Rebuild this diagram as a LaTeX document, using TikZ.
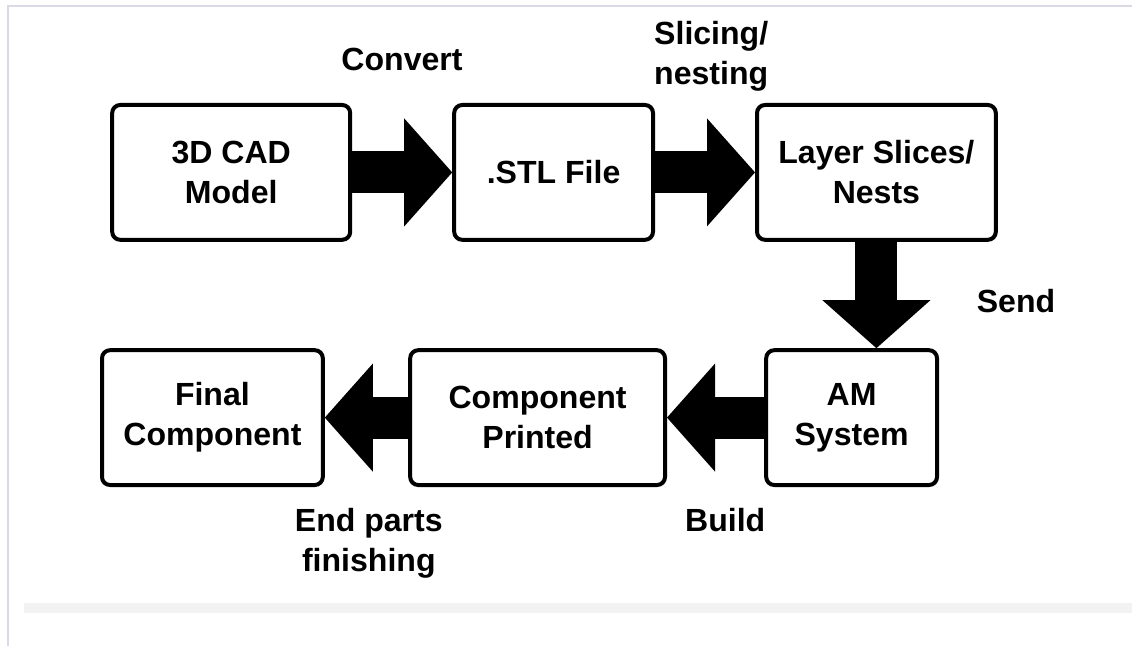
\documentclass[tikz,border=0pt]{standalone}
\usepackage{fontspec}
\setmainfont{Liberation Sans}
\usepackage{tikz}
\usetikzlibrary{arrows.meta}

\definecolor{framecol}{RGB}{218,218,230}
\definecolor{bandcol}{RGB}{242,242,242}

\tikzset{
  stepbox/.style={draw, line width=0.1cm, rounded corners=0.2cm,
                  minimum height=3.37cm, align=center, inner sep=0pt},
  flow/.style={line width=1.05cm,
               -{Triangle[length=1.2cm, width=2.7cm, line width=0pt]}},
  lbl/.style={align=center},
}

\begin{document}
\begin{tikzpicture}[font=\fontsize{22.8}{28.5}\selectfont\bfseries]
  \useasboundingbox (0,0) rectangle (28.3,-16.15);

  % Page frame and shaded band
  \draw[line width=1pt, framecol] (28.3,-0.15) -- (0.2,-0.15) -- (0.2,-16.15);
  \fill[bandcol] (0.6,-15.07) rectangle (28.3,-15.33);

  % Top row
  \node[stepbox, minimum width=5.95cm] (cad) at (5.78,-4.31) {3D CAD\\Model};
  \node[stepbox, minimum width=4.97cm] (stl) at (13.84,-4.31) {.STL File};
  \node[stepbox, minimum width=5.97cm] (slices) at (21.91,-4.31) {Layer Slices/\\Nests};

  % Bottom row
  \node[stepbox, minimum width=5.52cm] (final) at (5.31,-10.44) {Final\\Component};
  \node[stepbox, minimum width=6.37cm] (printed) at (13.44,-10.44) {Component\\Printed};
  \node[stepbox, minimum width=4.27cm] (am) at (21.29,-10.44) {AM\\System};

  % Block arrows
  \draw[flow] (cad.east) -- (stl.west);
  \draw[flow] (stl.east) -- (slices.west);
  \draw[flow] (slices.south) -- (slices.south |- am.north);
  \draw[flow] (am.west) -- (printed.east);
  \draw[flow] (printed.west) -- (final.east);

  % Step labels
  \node[lbl] (convert) at (10.05,-1.49) {Convert};
  \node[lbl] (slicing) at (17.78,-1.4) {Slicing/\\nesting};
  \node[lbl] (send) at (25.4,-7.52) {Send};
  \node[lbl] (build) at (18.13,-12.99) {Build};
  \node[lbl] (finishing) at (9.22,-13.58) {End parts\\finishing};
\end{tikzpicture}
\end{document}
